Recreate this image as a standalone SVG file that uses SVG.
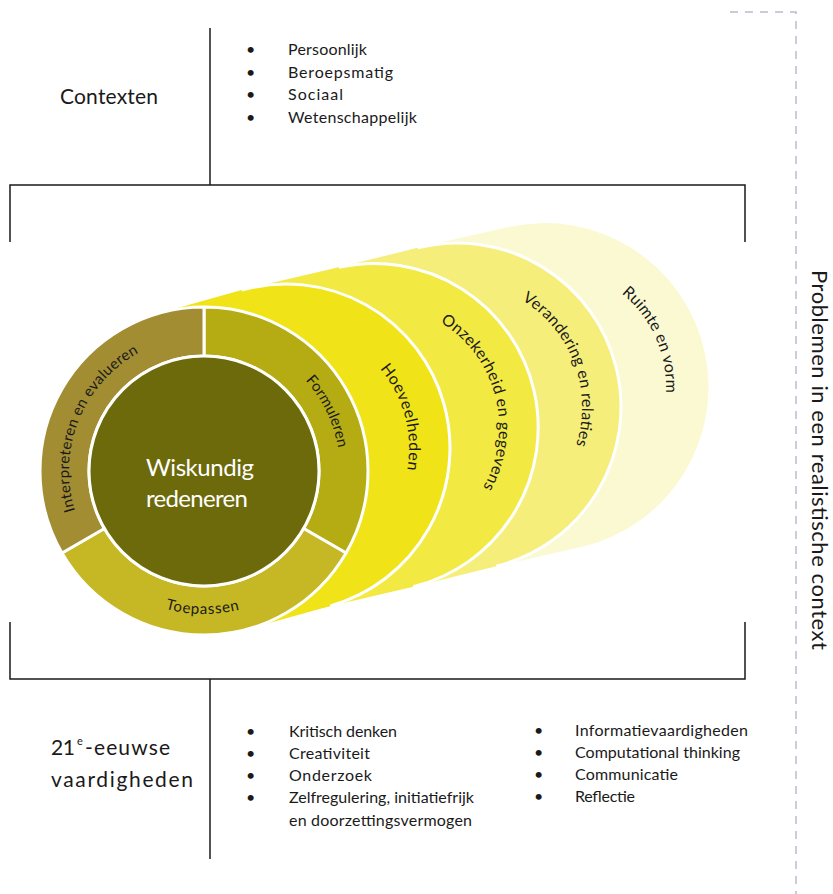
<svg xmlns="http://www.w3.org/2000/svg" xmlns:xlink="http://www.w3.org/1999/xlink" width="833" height="894" viewBox="0 0 833 894">
<style>
.t{font-family:Lato,'Liberation Sans','DejaVu Sans',sans-serif;fill:#1a1a1a}
.list{font-size:16px}
.big{font-size:21px}
.arc{font-size:16px}
.ring{font-size:15px}
.ln{stroke:#1a1a1a;stroke-width:1.5;fill:none}
.wh{stroke:#fff;stroke-width:3;fill:none}
.seg{stroke:#fff;stroke-width:3;stroke-linejoin:round}
</style>
<defs>
<path id="pInt" d="M97.62,554.12 A135,135 0 0 1 185.21,337.31"/>
<path id="pFor" d="M213.96,335.37 A136,136 0 0 1 316.49,547.45"/>
<path id="pToe" d="M78.42,541.47 A145,145 0 0 0 327.83,544.51"/>
<path id="pHoe" d="M317.83,329.19 A123,123 0 0 1 372.97,534.97"/>
<path id="pOnz" d="M408.87,308.47 A123,123 0 0 1 462.21,514.73"/>
<path id="pVer" d="M477.63,283.71 A125,125 0 0 1 553.45,486.51"/>
<path id="pRui" d="M557.65,266.66 A121,121 0 0 1 642.89,458.12"/>
</defs>

<g id="frame">
<path class="ln" d="M210,28 V185"/>
<path class="ln" d="M10,242 V185 H745 V242"/>
<path class="ln" d="M10,622 V679 H745 V622"/>
<path class="ln" d="M210,679 V859"/>
<path d="M730,12 H796 V894" fill="none" stroke="#B9BDCC" stroke-width="1.5" stroke-dasharray="8 7"/>
</g>

<g id="contexten">
<text class="t big" x="60" y="104" textLength="98">Contexten</text>
<g class="t list">
<text x="246" y="55">•</text><text x="288" y="55" textLength="79">Persoonlijk</text>
<text x="246" y="77.5">•</text><text x="288" y="77.5" textLength="105">Beroepsmatig</text>
<text x="246" y="100">•</text><text x="288" y="100" textLength="55">Sociaal</text>
<text x="246" y="122.5">•</text><text x="288" y="122.5" textLength="129">Wetenschappelijk</text>
</g>
</g>

<g id="vaardigheden">
<text class="t big" x="51" y="755" textLength="24">21</text>
<text class="t" x="77" y="745" font-size="11">e</text>
<text class="t big" x="85" y="755" textLength="85">-eeuwse</text>
<text class="t big" x="51" y="787" textLength="142">vaardigheden</text>
<g class="t list">
<text x="246" y="737">•</text><text x="289" y="737" textLength="108">Kritisch denken</text>
<text x="246" y="759">•</text><text x="289" y="759" textLength="81">Creativiteit</text>
<text x="246" y="781">•</text><text x="289" y="781" textLength="83">Onderzoek</text>
<text x="246" y="803">•</text><text x="289" y="803" textLength="185">Zelfregulering, initiatiefrijk</text>
<text x="289" y="826" textLength="183">en doorzettingsvermogen</text>
<text x="534" y="736">•</text><text x="575" y="736" textLength="173">Informatievaardigheden</text>
<text x="534" y="758">•</text><text x="575" y="758" textLength="165">Computational thinking</text>
<text x="534" y="780">•</text><text x="575" y="780" textLength="103">Communicatie</text>
<text x="534" y="802">•</text><text x="575" y="802" textLength="60">Reflectie</text>
</g>
</g>

<g id="context-label">
<text class="t" transform="translate(812,270) rotate(90)" font-size="22" textLength="380">Problemen in een realistische context</text>
</g>

<g id="ruimte">
<path d="M420.65,247.08 L508.65,227.08 A164,164 0 0 1 581.35,546.92 L493.35,566.92 A164,164 0 0 1 420.65,247.08 Z" fill="#FAF9D2"/>
<text class="t arc"><textPath href="#pRui" xlink:href="#pRui" startOffset="50%" text-anchor="middle" textLength="113">Ruimte en vorm</textPath></text>
</g>
<g id="verandering">
<path d="M336.69,267.78 L417.69,247.78 A164,164 0 0 1 496.31,566.22 L415.31,586.22 A164,164 0 0 1 336.69,267.78 Z" fill="#F6EE7A"/>
<path class="wh" d="M417.69,247.78 A164,164 0 0 1 496.31,566.22"/>
<text class="t arc"><textPath href="#pVer" xlink:href="#pVer" startOffset="50%" text-anchor="middle" textLength="167">Verandering en relaties</textPath></text>
</g>
<g id="onzekerheid">
<path d="M248.74,288.3 L338.74,267.3 A164,164 0 0 1 413.26,586.7 L323.26,607.7 A164,164 0 0 1 248.74,288.3 Z" fill="#F3E943"/>
<path class="wh" d="M338.74,267.3 A164,164 0 0 1 413.26,586.7"/>
<text class="t arc"><textPath href="#pOnz" xlink:href="#pOnz" startOffset="50%" text-anchor="middle" textLength="189">Onzekerheid en gegevens</textPath></text>
</g>
<g id="hoeveelheden">
<path d="M159.7,313.08 L241.7,290.08 A164,164 0 0 1 330.3,605.92 L248.3,628.92 A164,164 0 0 1 159.7,313.08 Z" fill="#F0E418"/>
<path class="wh" d="M241.7,290.08 A164,164 0 0 1 330.3,605.92"/>
<text class="t arc"><textPath href="#pHoe" xlink:href="#pHoe" startOffset="50%" text-anchor="middle" textLength="108">Hoeveelheden</textPath></text>
</g>

<g id="formuleren">
<path class="seg" d="M204,307 A164,164 0 0 1 346.03,553 L303.59,528.5 A115,115 0 0 0 204,356 Z" fill="#B5AC14"/>
<text class="t ring"><textPath href="#pFor" xlink:href="#pFor" startOffset="50%" text-anchor="middle" textLength="76">Formuleren</textPath></text>
</g>
<g id="toepassen">
<path class="seg" d="M346.03,553 A164,164 0 0 1 61.97,553 L104.41,528.5 A115,115 0 0 0 303.59,528.5 Z" fill="#C6B824"/>
<text class="t ring"><textPath href="#pToe" xlink:href="#pToe" startOffset="50%" text-anchor="middle" textLength="75">Toepassen</textPath></text>
</g>
<g id="interpreteren">
<path class="seg" d="M61.97,553 A164,164 0 0 1 204,307 L204,356 A115,115 0 0 0 104.41,528.5 Z" fill="#A38D32"/>
<text class="t ring"><textPath href="#pInt" xlink:href="#pInt" startOffset="50%" text-anchor="middle" textLength="184">Interpreteren en evalueren</textPath></text>
</g>
<g id="wiskundig">
<circle cx="204" cy="471" r="115" fill="#6C6A0B" stroke="#fff" stroke-width="3"/>
<text class="t" x="200" y="476" font-size="24" text-anchor="middle" textLength="108" style="fill:#fff">Wiskundig</text>
<text class="t" x="197" y="507" font-size="24" text-anchor="middle" textLength="102" style="fill:#fff">redeneren</text>
</g>
</svg>
